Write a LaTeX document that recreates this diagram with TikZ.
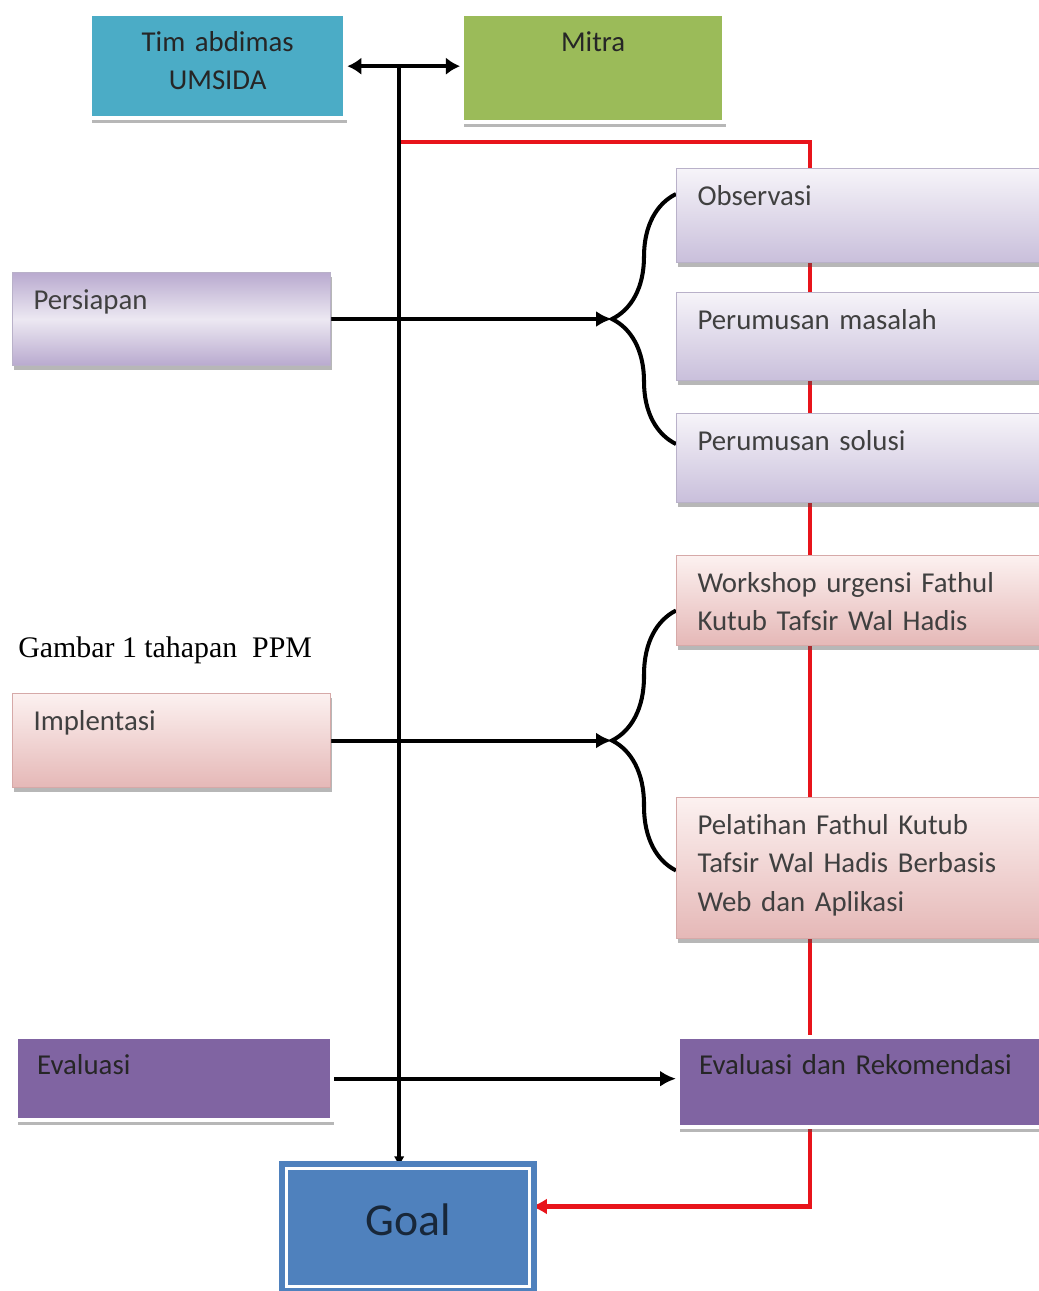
\documentclass[tikz,border=0pt]{standalone}
\usepackage{fontspec}
\setmainfont{Carlito}[Ligatures=NoCommon]
\newfontfamily\capfont{Liberation Serif}
\usetikzlibrary{arrows.meta,decorations.pathreplacing,shadows,backgrounds,calc}
\definecolor{TimBlue}{HTML}{4BACC6}
\definecolor{MitraGreen}{HTML}{9BBB59}
\definecolor{LavTop}{HTML}{F6F4F9}
\definecolor{LavBot}{HTML}{C9BFDB}
\definecolor{LavEdge}{HTML}{B9B1C9}
\definecolor{PersEdge}{HTML}{B9AACF}
\definecolor{PersMid}{HTML}{ECE8F2}
\definecolor{PinkTop}{HTML}{FCF1F0}
\definecolor{PinkBot}{HTML}{E5B8B7}
\definecolor{PinkEdge}{HTML}{D6A9A8}
\definecolor{EvalPurple}{HTML}{8064A2}
\definecolor{GoalBlue}{HTML}{4F81BD}
\definecolor{RedLine}{HTML}{E8141B}

\begin{document}
\begin{tikzpicture}[x=0.02cm, y=-0.02cm,
      arr/.style={-{Latex[length=9pt,width=9pt]}},
      every node/.append style={anchor=north west}]
    \tikzstyle{box} = [font=\fontsize{16.4}{21.8}\selectfont, inner xsep=0.42cm, inner ysep=0.28cm,
      text height=0.46cm, align=left, text width=6.56cm, text=black!75]
    \tikzstyle{shadowed} = [drop shadow={shadow xshift=1pt, shadow yshift=-2.5pt, opacity=0.4, fill=black!70}]
    \tikzstyle{framed} = [box, shadowed, draw=white, line width=2.5pt, text=black!85]
    \tikzstyle{lav} = [box, shadowed, top color=LavTop, bottom color=LavBot, draw=LavEdge, line width=0.6pt]
    \tikzstyle{pink} = [box, shadowed, top color=PinkTop, bottom color=PinkBot, draw=PinkEdge, line width=0.6pt]
    \useasboundingbox (0,0) rectangle (1038,1291);
    % partners
    \node (tim) [framed, fill=TimBlue, text width=4.26cm, align=center, text depth=1.06cm] at (88,12) {Tim abdimas\\UMSIDA};
    \node (mitra) [framed, fill=MitraGreen, text width=4.4cm, align=center, text depth=1.14cm] at (460,12) {Mitra};
    % stages
    \node (pers) [box, shadowed, shading angle=20, top color=PersEdge, bottom color=PersEdge, middle color=PersMid,
      draw=LavEdge, line width=0.6pt, text width=5.52cm, text depth=0.84cm] at (12,272) {Persiapan};
    \node (impl) [pink, text width=5.52cm, text depth=0.86cm] at (12,693) {Implentasi};
    \node (eval) [framed, fill=EvalPurple, text width=5.48cm, text depth=0.64cm] at (14,1035) {Evaluasi};
    \node (cap) [anchor=base west, inner sep=0pt, font=\capfont\fontsize{17}{20}\selectfont] at (18,657) {Gambar 1 tahapan\ \ PPM};
    % activities
    \node (obs) [lav, text depth=0.86cm] at (676,168) {Observasi};
    \node (mas) [lav, text depth=0.74cm] at (676,292) {Perumusan masalah};
    \node (sol) [lav, text depth=0.76cm] at (676,413) {Perumusan solusi};
    \node (work) [pink, text depth=0.78cm] at (676,555) {Workshop urgensi Fathul\\Kutub Tafsir Wal Hadis};
    \node (pel) [pink, text depth=1.80cm] at (676,797) {Pelatihan Fathul Kutub\\Tafsir Wal Hadis Berbasis\\Web dan Aplikasi};
    \node (evr) [framed, fill=EvalPurple, text depth=0.78cm] at (676,1035) {Evaluasi dan Rekomendasi};
    \node (goal) [draw=white, line width=1.7pt, fill=GoalBlue, preaction={draw=GoalBlue, line width=9pt},
      minimum width=4.86cm, minimum height=2.36cm, text depth=0.3cm, text=GoalBlue!30!black,
      font=\fontsize{26}{30}\selectfont] at (285,1167) {Goal};
    % connectors
    \coordinate (jt) at ($(tim.east)!0.46!(tim.east -| mitra.west)$);
    \coordinate (rk) at ($(jt)+(0,76)$);
    \coordinate (rc) at ($(rk)+(411,0)$);
    \coordinate (pb1) at ($(obs.west |- pers.east)+(0,125)$);
    \coordinate (pb2) at ($(obs.west |- pers.east)+(0,-125)$);
    \coordinate (ptip) at ($(obs.west |- pers.east)+(-64,0)$);
    \coordinate (ib1) at ($(obs.west |- impl.east)+(0,130)$);
    \coordinate (ib2) at ($(obs.west |- impl.east)+(0,-130)$);
    \coordinate (itip) at ($(obs.west |- impl.east)+(-64,0)$);
    \begin{scope}[on background layer={line width=2.3pt}]
      \fill[white] (0,0) rectangle (1038,1291);
      \draw[RedLine, -{Latex[length=9pt,width=9pt]}] (rk) -- (rc) |- ([yshift=0.42cm]goal.east);
      \draw[{Latex[length=8pt,width=10pt]}-{Latex[length=8pt,width=10pt]}] (tim.east) -- (tim.east -| mitra.west);
      \draw[-{Latex[length=6pt,width=6pt]}] (jt) -- (jt |- goal.north);
      \draw[arr] (pers.east) -- (ptip);
      \draw[arr] (impl.east) -- (itip);
      \draw[arr] (eval.east) -- (eval.east -| evr.west);
      \draw[decorate, decoration={brace, amplitude=1.28cm}] (pb1) -- (pb2);
      \draw[decorate, decoration={brace, amplitude=1.28cm}] (ib1) -- (ib2);
    \end{scope}
\end{tikzpicture}
\end{document}
